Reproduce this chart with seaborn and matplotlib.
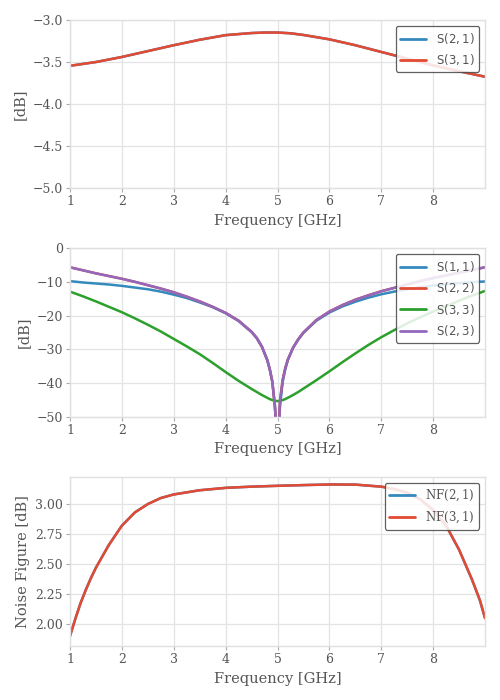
import numpy as np
import pandas as pd
import matplotlib
matplotlib.use("Agg")
import matplotlib.pyplot as plt
from matplotlib.font_manager import FontProperties
import seaborn as sns

# ---------------- data ----------------
freq_t = [1.0, 1.5, 2.0, 2.5, 3.0, 3.5, 4.0, 4.5, 4.75, 5.0, 5.25, 5.5, 6.0, 6.5, 7.0, 7.5,
          8.0, 8.5, 9.0]
s21 = [-3.545, -3.50, -3.44, -3.37, -3.30, -3.235, -3.18, -3.155, -3.149, -3.149, -3.158,
       -3.178, -3.23, -3.30, -3.38, -3.46, -3.54, -3.61, -3.675]
s31 = list(s21)

freq_s = [1.0, 1.25, 1.5, 1.75, 2.0, 2.25, 2.5, 2.75, 3.0, 3.25, 3.5, 3.75, 4.0, 4.25, 4.5,
          4.6, 4.7, 4.8, 4.85, 4.9, 4.95, 5.0, 5.05, 5.1, 5.15, 5.2, 5.3, 5.4, 5.5, 5.75,
          6.0, 6.25, 6.5, 6.75, 7.0, 7.25, 7.5, 7.75, 8.0, 8.25, 8.5, 8.75, 9.0]
s11 = [-9.8, -10.2, -10.5, -10.8, -11.2, -11.7, -12.2, -12.9, -13.8, -14.8, -16.1, -17.5,
       -19.3, -21.6, -24.9, -26.7, -29.3, -33.1, -35.9, -39.6, -46.5, -60.0, -46.5, -39.6,
       -35.9, -33.1, -29.5, -27.1, -25.1, -21.5, -19.1, -17.3, -15.9, -14.7, -13.7, -12.9,
       -12.2, -11.6, -11.1, -10.7, -10.4, -10.1, -9.9]
s23 = [-5.7, -6.6, -7.5, -8.3, -9.1, -10.0, -11.0, -12.0, -13.1, -14.4, -15.8, -17.4,
       -19.2, -21.5, -24.8, -26.6, -29.2, -33.0, -35.8, -39.5, -47.0, -60.0, -45.0, -39.0,
       -35.5, -33.0, -29.5, -27.0, -25.0, -21.3, -18.8, -16.9, -15.3, -14.0, -12.8, -11.8,
       -10.8, -9.8, -8.9, -8.1, -7.3, -6.5, -5.7]
s22 = list(s23)
s33 = [-12.9, -14.3, -15.8, -17.4, -19.0, -20.8, -22.7, -24.7, -26.9, -29.1, -31.4, -34.0,
       -36.7, -39.3, -41.7, -42.6, -43.5, -44.3, -44.7, -45.0, -45.2, -45.3, -45.2, -45.0,
       -44.7, -44.3, -43.5, -42.6, -41.6, -39.1, -36.5, -33.8, -31.2, -28.7, -26.4, -24.3,
       -22.3, -20.5, -18.8, -17.2, -15.6, -14.1, -12.7]

freq_n = [1.0, 1.1, 1.2, 1.3, 1.4, 1.5, 1.75, 2.0, 2.25, 2.5, 2.75, 3.0, 3.5, 4.0, 4.5,
          5.0, 5.5, 6.0, 6.5, 7.0, 7.25, 7.5, 7.75, 8.0, 8.25, 8.5, 8.75, 8.9, 9.0]
nf21 = [1.90, 2.04, 2.17, 2.28, 2.38, 2.47, 2.66, 2.82, 2.93, 3.00, 3.05, 3.08, 3.115,
        3.135, 3.145, 3.152, 3.158, 3.163, 3.162, 3.145, 3.125, 3.095, 3.04, 2.95, 2.82,
        2.62, 2.37, 2.20, 2.05]
nf31 = list(nf21)

xticks = [1, 2, 3, 4, 5, 6, 7, 8]
yticks_top = [-3.0, -3.5, -4.0, -4.5, -5.0]
yticks_mid = [0, -10, -20, -30, -40, -50]
yticks_bot = [2.00, 2.25, 2.50, 2.75, 3.00]

labels_top = [r"$\mathrm{S}(2,1)$", r"$\mathrm{S}(3,1)$"]
labels_mid = [r"$\mathrm{S}(1,1)$", r"$\mathrm{S}(2,2)$", r"$\mathrm{S}(3,3)$", r"$\mathrm{S}(2,3)$"]
labels_bot = [r"$\mathrm{NF}(2,1)$", r"$\mathrm{NF}(3,1)$"]

# ---------------- style ----------------
sns.set_theme(style="whitegrid")
grey = "#555555"
plt.rcParams.update({
    "font.family": ["DejaVu Serif"],
    "text.color": grey,
    "axes.labelcolor": grey,
    "xtick.color": "#aaaaaa",
    "ytick.color": "#aaaaaa",
    "xtick.labelcolor": grey,
    "ytick.labelcolor": grey,
    "xtick.labelsize": 9,
    "ytick.labelsize": 9,
    "axes.labelsize": 10.5,
    "axes.edgecolor": "#e0e0e0",
    "axes.linewidth": 1.0,
    "grid.color": "#e3e3e3",
    "grid.linewidth": 0.9,
    "xtick.bottom": True,
    "ytick.left": True,
    "xtick.major.size": 3,
    "ytick.major.size": 3,
    "xtick.major.width": 0.8,
    "ytick.major.width": 0.8,
})

c_blue = "#348ABD"
c_red = "#E24A33"
c_green = "#2ca02c"
c_purple = "#9467bd"

fig = plt.figure(figsize=(5, 7), dpi=100)
ax1 = fig.add_axes([0.14, 0.7314, 0.83, 0.24])
ax2 = fig.add_axes([0.14, 0.4043, 0.83, 0.2414])
ax3 = fig.add_axes([0.14, 0.0771, 0.83, 0.2414])

lw = 1.8

def long_df(freq, series, labels):
    frames = []
    for vals, lab in zip(series, labels):
        frames.append(pd.DataFrame({"freq": freq, "val": vals, "param": lab}))
    return pd.concat(frames, ignore_index=True)

# top
df1 = long_df(freq_t, [s21, s31], labels_top)
sns.lineplot(data=df1, x="freq", y="val", hue="param", palette=[c_blue, c_red],
             linewidth=lw, ax=ax1, sort=False)
ax1.set_ylim(-5.0, -3.0)
ax1.set_yticks(yticks_top)

# middle
df2 = long_df(freq_s, [s11, s22, s33, s23], labels_mid)
sns.lineplot(data=df2, x="freq", y="val", hue="param",
             palette=[c_blue, c_red, c_green, c_purple],
             linewidth=lw, ax=ax2, sort=False)
ax2.set_ylim(-50, 0)
ax2.set_yticks(yticks_mid)

# bottom
df3 = long_df(freq_n, [nf21, nf31], labels_bot)
sns.lineplot(data=df3, x="freq", y="val", hue="param", palette=[c_blue, c_red],
             linewidth=lw, ax=ax3, sort=False)
ax3.set_ylim(1.817, 3.225)
ax3.set_yticks(yticks_bot)
ax3.yaxis.set_major_formatter(matplotlib.ticker.FormatStrFormatter("%.2f"))

for ax, ylab, mfam in [(ax1, "[dB]", "dejavusans"), (ax2, "[dB]", "dejavusans"),
                       (ax3, "Noise Figure [dB]", "dejavuserif")]:
    ax.set_xlim(1, 9)
    ax.set_xticks(xticks)
    ax.set_xlabel("Frequency [GHz]")
    ax.set_ylabel(ylab)
    ax.tick_params(axis="both", which="major", pad=2)
    for sp in ax.spines.values():
        sp.set_visible(True)
        sp.set_color("#e0e0e0")
    fp = FontProperties(family="DejaVu Sans", size=8.5, math_fontfamily=mfam)
    leg = ax.legend(loc="upper right", frameon=True, fancybox=True, framealpha=0.85,
                    edgecolor="#444444", prop=fp, borderaxespad=0.5,
                    handlelength=2.2, handletextpad=0.8, labelspacing=0.55, title=None)
    leg.get_frame().set_linewidth(0.9)
    for t in leg.get_texts():
        t.set_color(grey)
    for h in leg.get_lines():
        h.set_linewidth(2.0)

fig.savefig("out.png", dpi=100)
